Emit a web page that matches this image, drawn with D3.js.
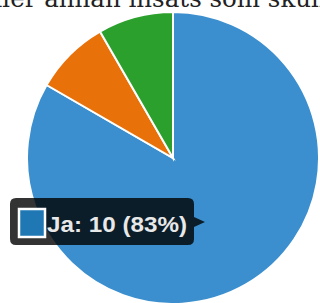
<!DOCTYPE html>
<html>
<head>
<meta charset="utf-8">
<script src="https://cdn.jsdelivr.net/npm/d3@7"></script>
<style>
  body { margin: 0; background: #fff; overflow: hidden; }
</style>
</head>
<body>
<div id="chart"></div>
<script>
// answers and counts
var labels = ["Ja", "Nej", "Vet ej"]
var counts = [10, 1, 1]
var colors = ["#3b8fce", "#e8710a", "#2ca02c"]
var titleText = "eller annan insats som skulle"
var hovered = 0

var width = 320
var height = 303
var cx = 173
var cy = 158
var radius = 146

var svg = d3.select("#chart")
  .append("svg")
  .attr("width", width)
  .attr("height", height)

// title, mostly scrolled off the top
svg.append("text")
  .attr("x", -20)
  .attr("y", 7)
  .style("font-family", "'DejaVu Serif', serif")
  .style("font-size", "24.5px")
  .style("fill", "#222")
  .text(titleText)

var pie = d3.pie().sort(null).value(function (d) { return d })
var arc = d3.arc().innerRadius(0).outerRadius(radius)
var color = d3.scaleOrdinal().domain(labels).range(colors)
var arcs = pie(counts)

var g = svg.append("g").attr("transform", "translate(" + cx + "," + cy + ")")

g.selectAll("path")
  .data(arcs)
  .enter()
  .append("path")
  .attr("d", arc)
  .style("fill", function (d, i) { return color(labels[i]) })
  .style("stroke", "#fff")
  .style("stroke-width", 2)

// tooltip for the hovered slice
var total = d3.sum(counts)
var pct = d3.format(".0%")(counts[hovered] / total)
var tip = svg.append("g").attr("transform", "translate(10,198)")

tip.append("path")
  .attr("d", "M6,0 H178 Q184,0 184,6 V19 L195,24 L184,29 V41 Q184,47 178,47 H6 Q0,47 0,41 V6 Q0,0 6,0 Z")
  .style("fill", "rgba(0,0,0,0.8)")

tip.append("rect")
  .attr("x", 9)
  .attr("y", 11)
  .attr("width", 26)
  .attr("height", 28)
  .style("fill", "#1f77b4")
  .style("stroke", "#fff")
  .style("stroke-width", 2.5)

tip.append("text")
  .attr("x", 37)
  .attr("y", 34)
  .attr("textLength", 140)
  .attr("lengthAdjust", "spacingAndGlyphs")
  .style("font-family", "'Liberation Sans', Arial, sans-serif")
  .style("font-weight", "bold")
  .style("font-size", "22px")
  .style("fill", "#e8e8e8")
  .text(labels[hovered] + ": " + counts[hovered] + " (" + pct + ")")
</script>
</body>
</html>
